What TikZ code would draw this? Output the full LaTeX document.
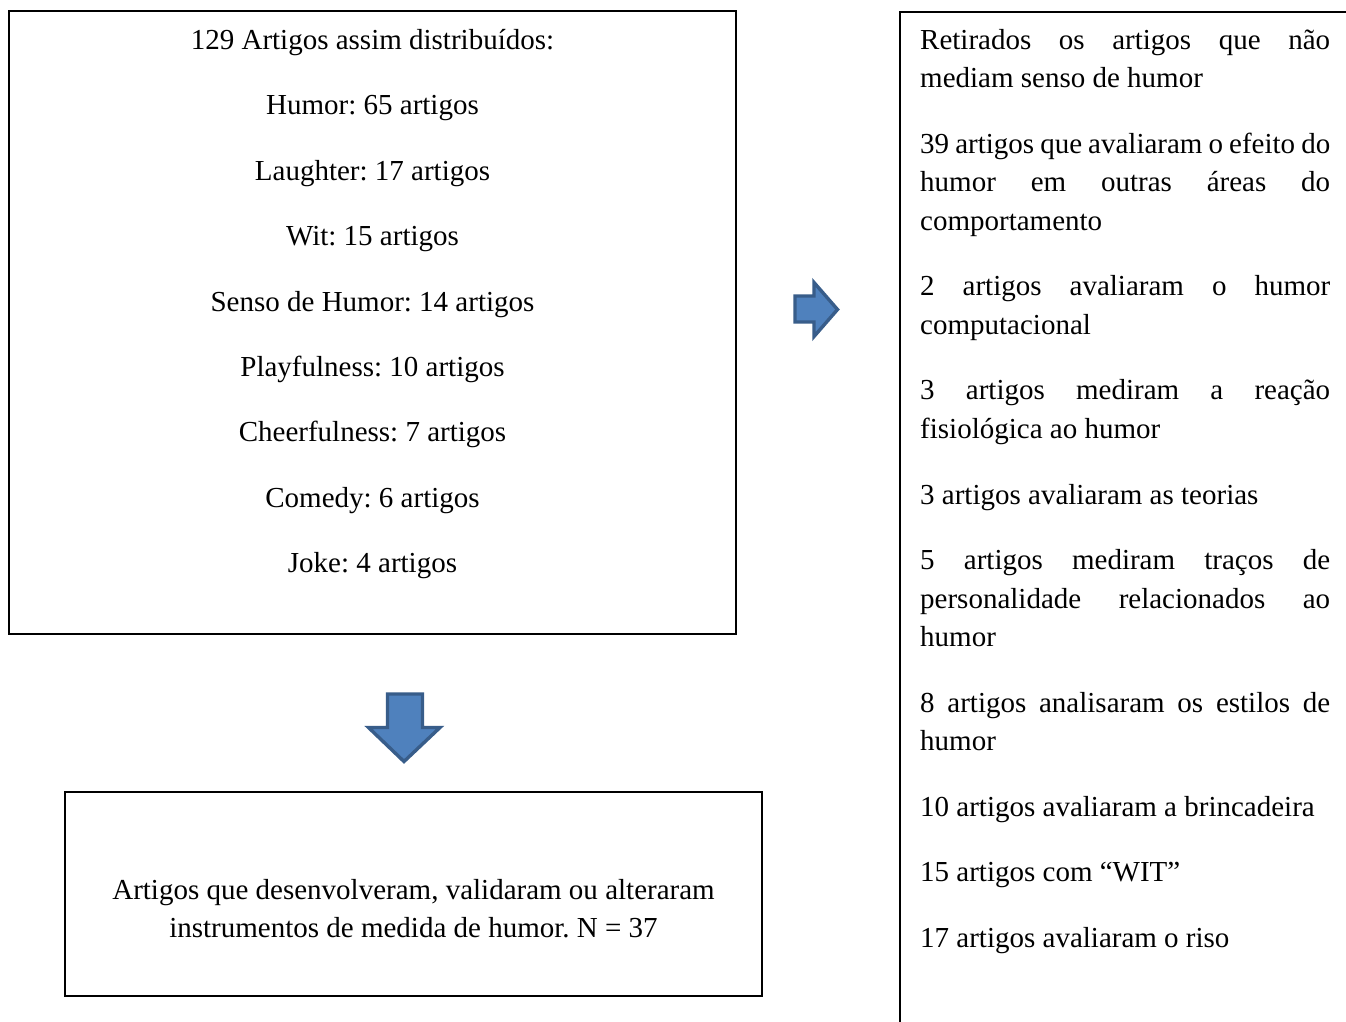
\documentclass[tikz,border=0pt]{standalone}
\usepackage{fontspec}
\setmainfont{Liberation Serif}
\usetikzlibrary{calc}
\definecolor{arrowfill}{HTML}{4F81BD}
\definecolor{arrowline}{HTML}{385D8A}
\hyphenpenalty=10000
\frenchspacing
\tikzset{
	box/.style={draw=black, line width=1.6pt, inner sep=0pt},
	bluearrow/.style={fill=arrowfill, draw=arrowline, line width=3.4pt, line join=miter},
	txt/.style={font=\fontsize{29}{38.6}\selectfont, inner sep=0pt},
}

\begin{document}
\begin{tikzpicture}[x=1pt, y=-1pt]
			%%%%% START %%%%%
			\useasboundingbox[fill=white] (0, 0) rectangle (1346, 1021);
			
			% left box with the search terms
			\node[box, minimum width=727, minimum height=623] (terms) at (372.5, 322.5) {};
			\foreach \t [count=\i from 0] in {129 Artigos assim distribuídos:, Humor: 65 artigos, Laughter: 17 artigos, Wit: 15 artigos, Senso de Humor: 14 artigos, Playfulness: 10 artigos, Cheerfulness: 7 artigos, Comedy: 6 artigos, Joke: 4 artigos}
				\node[txt, anchor=base] (term\i) at (372.5, 49.5 + 65.4*\i) {\t};
			
			% down arrow
			\draw[bluearrow] (387.5, 694) -- (422.5, 694) -- (422.5, 727.5) -- (440, 727.5)
				-- (404, 761.5) -- (368.5, 727.5) -- (387.5, 727.5) -- cycle;
			
			% result box
			\node[box, minimum width=697, minimum height=204] (result) at (413.5, 894) {};
			\node[txt, align=center] (resulttext) at (413.5, 908.5)
				{Artigos que desenvolveram, validaram ou alteraram\\instrumentos de medida de humor. N = 37};
			
			% right arrow
			\draw[bluearrow] (795, 296) -- (814, 296) -- (814, 282.5) -- (837.5, 309.5)
				-- (814, 336.5) -- (814, 322) -- (795, 322) -- cycle;
			
			% right box, cut by the page edge
			\begin{scope}
				\clip (0, 0) rectangle (1346, 1021);
				\node[box, minimum width=480, minimum height=1060, anchor=north west] (removed) at (899, 11) {};
			\end{scope}
			\node[txt, text width=410, align=justify, anchor=base west] (removedtext) at (920, 49)
				{\setlength{\parskip}{26.9pt}%
				Retirados os artigos que não\linebreak mediam senso de humor\par
				39 artigos que avaliaram o efeito do\linebreak humor em outras áreas do\linebreak comportamento\par
				2 artigos avaliaram o humor\linebreak computacional\par
				3 artigos mediram a reação\linebreak fisiológica ao humor\par
				3 artigos avaliaram as teorias\par
				5 artigos mediram traços de\linebreak personalidade relacionados ao\linebreak humor\par
				8 artigos analisaram os estilos de\linebreak humor\par
				10 artigos avaliaram a brincadeira\par
				15 artigos com “WIT”\par
				17 artigos avaliaram o riso};
			%%%%% END %%%%%
\end{tikzpicture}
\end{document}
